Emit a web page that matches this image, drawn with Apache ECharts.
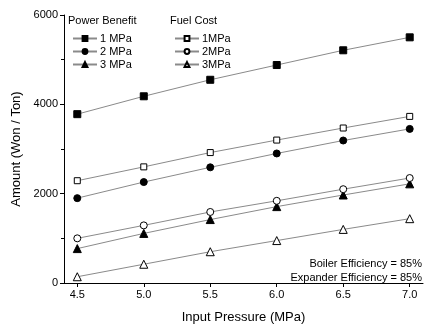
<!DOCTYPE html>
<html>
<head>
<meta charset="utf-8">
<script src="https://cdn.jsdelivr.net/npm/echarts@6/dist/echarts.min.js"></script>
<style>
  html,body{margin:0;padding:0;background:#fff;}
  #chart{width:426px;height:329px;}
</style>
</head>
<body>
<div id="chart"></div>
<script>
// ---- 資料 ----
const pressures = [4.5, 5.0, 5.5, 6.0, 6.5, 7.0];
const xTicks = [4.5, 5.0, 5.5, 6.0, 6.5, 7.0];

const power1 = [3780, 4180, 4550, 4880, 5210, 5500];
const power2 = [1900, 2260, 2590, 2900, 3190, 3450];
const power3 = [770, 1110, 1420, 1710, 1970, 2220];

const fuel1 = [2290, 2600, 2920, 3200, 3470, 3730];
const fuel2 = [1000, 1290, 1590, 1840, 2100, 2350];
const fuel3 = [140, 420, 700, 950, 1200, 1440];

const FONT = 'Liberation Sans';
const LINE_C = '#8a8a8a';

function mkSeries(name, vals, symbol, filled, size){
  return {
    name, type:'line',
    data: pressures.map((p,i)=>[p, vals[i]]),
    symbol, symbolSize: size,
    showAllSymbol: true,
    lineStyle:{ color: LINE_C, width: 1 },
    itemStyle:{ color: filled ? '#000' : '#fff', borderColor:'#000', borderWidth: 1 },
    emphasis:{ disabled:true },
    z: 3
  };
}

const legendBase = {
  orient:'vertical', top:27,
  itemWidth:24, itemHeight:6, itemGap:0,
  textStyle:{ fontFamily:FONT, fontSize:11, color:'#000', lineHeight:13, padding:[0,0,0,-2] },
  selectedMode:false
};

const chart = echarts.init(document.getElementById('chart'));
chart.setOption({
  backgroundColor:'#fff',
  animation:false,
  textStyle:{ fontFamily: FONT },
  grid:{ left:64, top:15, right:3, bottom:41 },
  xAxis:{
    type:'value', min:4.4, max:7.1,
    name:'Input Pressure (MPa)', nameLocation:'middle', nameGap:28,
    nameTextStyle:{ fontFamily:FONT, fontSize:13, color:'#000' },
    axisLine:{ lineStyle:{ color:'#000', width:1 } },
    axisTick:{ show:true, length:4, inside:false, customValues: xTicks, lineStyle:{color:'#000'} },
    axisLabel:{ customValues: xTicks, color:'#000', fontSize:11, fontFamily:FONT, margin:6,
      formatter: v => (+v).toFixed(1) },
    splitLine:{ show:false }
  },
  yAxis:{
    type:'value', min:0, max:6000, interval:2000,
    name:'Amount (Won / Ton)', nameLocation:'middle', nameGap:40,
    nameTextStyle:{ fontFamily:FONT, fontSize:13, color:'#000' },
    axisLine:{ show:true, lineStyle:{ color:'#000', width:1 } },
    axisTick:{ show:true, length:4, lineStyle:{color:'#000'} },
    minorTick:{ show:true, splitNumber:2, length:3, lineStyle:{color:'#000'} },
    axisLabel:{ color:'#000', fontSize:11, fontFamily:FONT, margin:6, formatter: v => String(v) },
    splitLine:{ show:false }
  },
  legend:[
    Object.assign({ data:['1 MPa','2 MPa','3 MPa'], left:67 }, legendBase),
    Object.assign({ data:['1MPa','2MPa','3MPa'], left:169 }, legendBase)
  ],
  graphic:[
    { type:'text', left:68, top:15, style:{ text:'Power Benefit', font:'11px '+FONT, fill:'#000' } },
    { type:'text', left:170, top:15, style:{ text:'Fuel Cost', font:'11px '+FONT, fill:'#000' } },
    { type:'text', right:4, top:258, style:{ text:'Boiler Efficiency = 85%', font:'11px '+FONT, fill:'#000', align:'right' } },
    { type:'text', right:4, top:272, style:{ text:'Expander Efficiency = 85%', font:'11px '+FONT, fill:'#000', align:'right' } }
  ],
  series:[
    mkSeries('1 MPa', power1, 'rect', true, 7),
    mkSeries('2 MPa', power2, 'circle', true, 7),
    mkSeries('3 MPa', power3, 'triangle', true, 8),
    mkSeries('1MPa', fuel1, 'rect', false, 6),
    mkSeries('2MPa', fuel2, 'circle', false, 7),
    mkSeries('3MPa', fuel3, 'triangle', false, 8)
  ]
});
</script>
</body>
</html>
